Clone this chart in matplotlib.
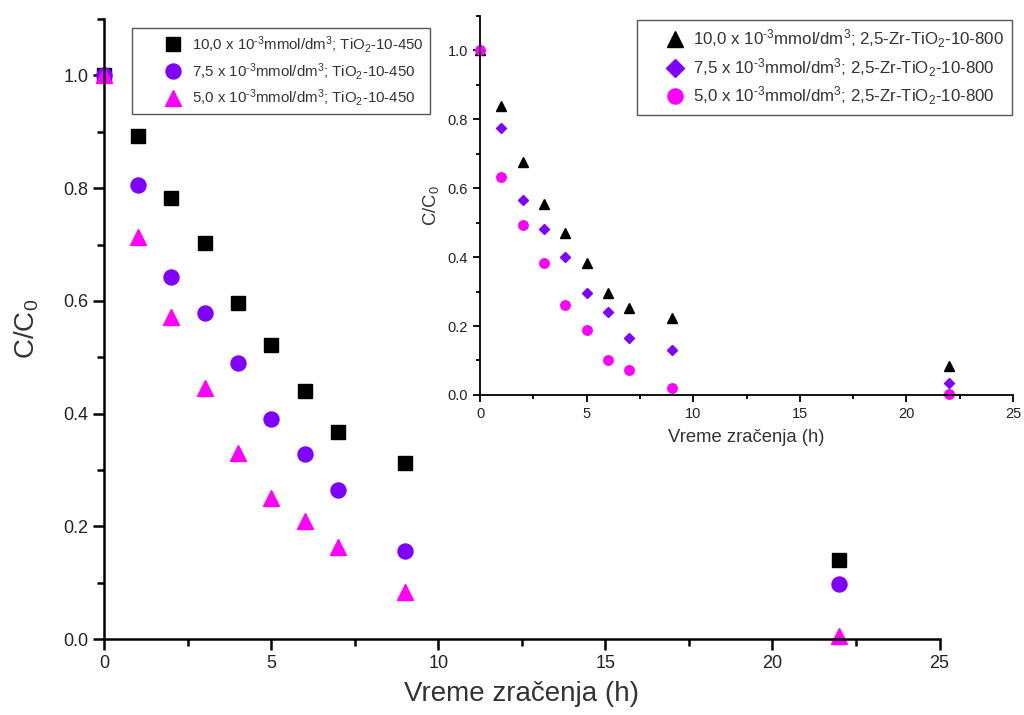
import numpy as np
import matplotlib
matplotlib.use('Agg')
import matplotlib.pyplot as plt
from matplotlib.ticker import MultipleLocator, FormatStrFormatter

plt.rcParams['font.family'] = ['Liberation Sans', 'DejaVu Sans']
plt.rcParams['mathtext.fontset'] = 'custom'
plt.rcParams['mathtext.rm'] = 'Liberation Sans'
plt.rcParams['mathtext.default'] = 'regular'

# glavni grafik: TiO2-10-450
t_main = [0, 1, 2, 3, 4, 5, 6, 7, 9, 22]
c10_main = [1.0, 0.892, 0.782, 0.702, 0.597, 0.521, 0.441, 0.368, 0.313, 0.141]
c75_main = [1.0, 0.805, 0.642, 0.579, 0.490, 0.390, 0.329, 0.265, 0.157, 0.098]
c50_main = [1.0, 0.714, 0.572, 0.445, 0.331, 0.251, 0.210, 0.164, 0.084, 0.006]

# umetak: 2,5-Zr-TiO2-10-800
t_ins = [0, 1, 2, 3, 4, 5, 6, 7, 9, 22]
c10_ins = [1.0, 0.838, 0.676, 0.553, 0.469, 0.383, 0.295, 0.251, 0.224, 0.084]
c75_ins = [1.0, 0.773, 0.565, 0.480, 0.401, 0.296, 0.241, 0.164, 0.130, 0.034]
c50_ins = [1.0, 0.633, 0.493, 0.383, 0.261, 0.188, 0.101, 0.072, 0.019, 0.002]

lab_main = [r'10,0 x 10$^{‐3}$mmol/dm$^{3}$; TiO$_{2}$-10-450',
            r'7,5 x 10$^{‐3}$mmol/dm$^{3}$; TiO$_{2}$-10-450',
            r'5,0 x 10$^{‐3}$mmol/dm$^{3}$; TiO$_{2}$-10-450']
lab_ins = [r'10,0 x 10$^{‐3}$mmol/dm$^{3}$; 2,5-Zr-TiO$_{2}$-10-800',
           r'7,5 x 10$^{‐3}$mmol/dm$^{3}$; 2,5-Zr-TiO$_{2}$-10-800',
           r'5,0 x 10$^{‐3}$mmol/dm$^{3}$; 2,5-Zr-TiO$_{2}$-10-800']

VIOLET = '#8000ff'
MAGENTA = '#ff00ff'
TXT = '#333333'


def style_axes(ax, fs, major_len, lw):
    ax.spines['top'].set_visible(False)
    ax.spines['right'].set_visible(False)
    ax.spines['left'].set_linewidth(lw)
    ax.spines['bottom'].set_linewidth(lw)
    ax.set_xlim(0, 25)
    ax.set_ylim(0, 1.1)
    ax.xaxis.set_major_locator(MultipleLocator(5))
    ax.xaxis.set_minor_locator(MultipleLocator(2.5))
    ax.yaxis.set_major_locator(MultipleLocator(0.2))
    ax.yaxis.set_minor_locator(MultipleLocator(0.1))
    ax.yaxis.set_major_formatter(FormatStrFormatter('%.1f'))
    ax.tick_params(which='major', direction='out', length=major_len, width=lw,
                   labelsize=fs, labelcolor='#222222')
    ax.tick_params(which='minor', direction='out', length=major_len * 0.6, width=lw)


fig = plt.figure(figsize=(10.24, 7.15), dpi=100)
ax = fig.add_axes([0.1019, 0.1059, 0.8156, 0.8676])
style_axes(ax, 13, 8, 1.8)

ax.plot(t_main, c10_main, 's', color='black', ms=9.4, label=lab_main[0], clip_on=False)
ax.plot(t_main, c75_main, 'o', color=VIOLET, ms=10.8, label=lab_main[1], clip_on=False)
ax.plot(t_main, c50_main, '^', color=MAGENTA, ms=11.5, label=lab_main[2], clip_on=False)

ax.set_xlabel('Vreme zračenja (h)', fontsize=20, color=TXT, labelpad=6)
ax.set_ylabel(r'C/C$_{0}$', fontsize=20, color=TXT, labelpad=16)

leg1 = ax.legend(loc='upper left', bbox_to_anchor=(132 / 1024, 1 - 28 / 715),
                 bbox_transform=fig.transFigure, borderaxespad=0, fontsize=10.8,
                 numpoints=1, handlelength=4.67, handletextpad=-1.07,
                 labelspacing=0.38, borderpad=0.4, fancybox=False, framealpha=1,
                 edgecolor='#555555')
leg1.get_frame().set_linewidth(1.0)
for t in leg1.get_texts():
    t.set_color(TXT)

ins = fig.add_axes([0.4688, 0.4476, 0.5205, 0.5305])
style_axes(ins, 10.5, 5, 1.3)

ins.plot(t_ins, c10_ins, '^', color='black', ms=7.5, label=lab_ins[0], clip_on=False)
ins.plot(t_ins, c75_ins, 'D', color=VIOLET, ms=5.6, label=lab_ins[1], clip_on=False)
ins.plot(t_ins, c50_ins, 'o', color=MAGENTA, ms=6.8, label=lab_ins[2], clip_on=False)

ins.set_xlabel('Vreme zračenja (h)', fontsize=13.3, color=TXT, labelpad=6)
ins.set_ylabel(r'C/C$_{0}$', fontsize=13.3, color=TXT, labelpad=5)

leg2 = ins.legend(loc='upper left', bbox_to_anchor=(637 / 1024, 1 - 20 / 715),
                  bbox_transform=fig.transFigure, borderaxespad=0, fontsize=12.2,
                  numpoints=1, markerscale=1.6, handlelength=3.6, handletextpad=-0.74,
                  labelspacing=0.35, borderpad=0.45, fancybox=False, framealpha=1,
                  edgecolor='#555555')
leg2.get_frame().set_linewidth(1.0)
for t in leg2.get_texts():
    t.set_color(TXT)

fig.savefig('out.png', dpi=100)
